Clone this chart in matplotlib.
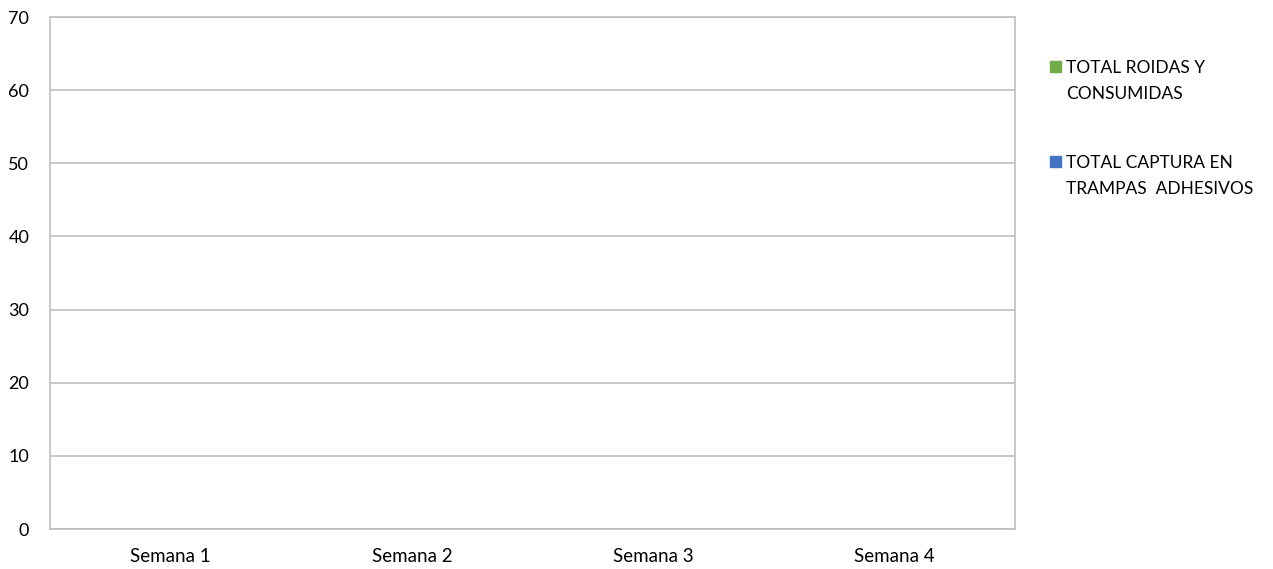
import matplotlib.pyplot as plt
import numpy as np
from matplotlib.patches import Rectangle

plt.rcParams['font.family'] = ['Lato', 'DejaVu Sans']

semanas = ['Semana 1', 'Semana 2', 'Semana 3', 'Semana 4']
roidas = [0, 0, 0, 0]
captura = [0, 0, 0, 0]
labels = ['TOTAL ROIDAS Y\nCONSUMIDAS', 'TOTAL CAPTURA EN\nTRAMPAS  ADHESIVOS']
colores = ['#70AD47', '#4472C4']

W, H = 1273, 569
fig = plt.figure(figsize=(W / 100, H / 100), dpi=100)
ax = fig.add_axes([50 / W, 1 - 529 / H, 965 / W, 512 / H])

x = np.arange(len(semanas))
w = 0.3
b1 = ax.bar(x - w / 2, roidas, w, color=colores[0], label=labels[0])
b2 = ax.bar(x + w / 2, captura, w, color=colores[1], label=labels[1])

ax.set_xlim(-0.5, 3.5)
ax.set_ylim(0, 70)
ax.set_yticks(range(0, 71, 10))
ax.set_xticks(x)
ax.set_xticklabels(semanas)
ax.yaxis.grid(True, color='#BFBFBF', linewidth=1.2)
ax.set_axisbelow(True)
for s in ax.spines.values():
    s.set_color('#BFBFBF')
    s.set_linewidth(1.2)
ax.tick_params(length=0)
ax.tick_params(axis='x', pad=14, labelsize=13.5)
ax.tick_params(axis='y', pad=15, labelsize=13)

# legend drawn by hand so the square sits on the first text line
for i, (bars, lab) in enumerate([(b1, labels[0]), (b2, labels[1])]):
    base = 73 + i * 95
    fig.patches.append(Rectangle((1050 / W, 1 - (base - 1) / H), 11 / W, 11 / H,
                                 transform=fig.transFigure,
                                 color=bars.patches[0].get_facecolor()))
    fig.text(1066 / W, 1 - base / H, lab.split('\n')[0], fontsize=12.5,
             va='baseline', ha='left')
    fig.text(1066 / W, 1 - (base + 26) / H, lab.split('\n')[1], fontsize=12.5,
             va='baseline', ha='left')

fig.savefig('out.png', dpi=100)
